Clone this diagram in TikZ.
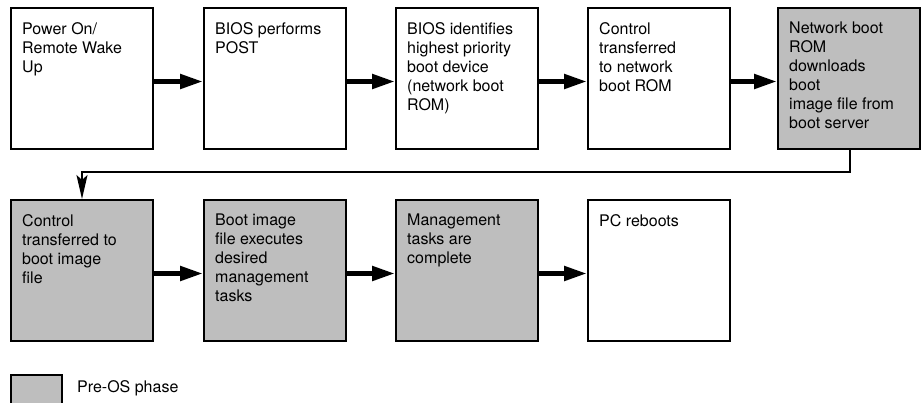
\documentclass[tikz,border=0pt]{standalone}
\usepackage{fontspec}
\setmainfont{TeX Gyre Heros}
\usetikzlibrary{arrows.meta}
\definecolor{preos}{RGB}{190,190,190}
\tikzset{
  stepbox/.style={draw=black, line width=2pt, minimum width=142pt, minimum height=141pt,
    inner sep=0pt, anchor=north west},
  preosbox/.style={stepbox, fill=preos},
  steptext/.style={anchor=north west, align=left, inner sep=0pt,
    font=\fontsize{16pt}{19pt}\selectfont},
  flow/.style={line width=5pt, -{Triangle[length=23pt,width=14pt]}},
  wrap/.style={line width=2pt, -{Stealth[length=24pt,width=11pt,inset=5pt]}},
}
\begin{document}
\begin{tikzpicture}[x=1pt,y=-1pt]
\useasboundingbox (0,0) rectangle (923,402);
\begin{scope}
\clip (0,0) rectangle (923,402);

% first row
\node[stepbox]  (b1) at (10,7)  {};
\node[stepbox]  (b2) at (203,7) {};
\node[stepbox]  (b3) at (395,7) {};
\node[stepbox]  (b4) at (587,7) {};
\node[preosbox] (b5) at (777,7) {};

% second row
\node[preosbox] (b6) at (10,199)  {};
\node[preosbox] (b7) at (203,199) {};
\node[preosbox] (b8) at (395,199) {};
\node[stepbox]  (b9) at (587,199) {};

% box texts
\foreach \b/\t in {b1/{Power On/\\Remote Wake\\Up},
                   b2/{BIOS performs\\POST},
                   b3/{BIOS identifies\\highest priority\\boot device\\(network boot\\ROM)},
                   b4/{Control\\transferred\\to network\\boot ROM},
                   b5/{Network boot\\ROM\\downloads\\boot\\image file from\\boot server},
                   b6/{Control\\transferred to\\boot image\\file},
                   b7/{Boot image\\file executes\\desired\\management\\tasks},
                   b8/{Management\\tasks are\\complete},
                   b9/{PC reboots}}
  \node[steptext] (t\b) at ([xshift=12,yshift=-15]\b.north west) {\t};

% forward arrows
\foreach \a/\b in {b1/b2,b2/b3,b3/b4,b4/b5,b6/b7,b7/b8,b8/b9}
  \draw[flow] ([yshift=-3]\a.east) -- ([yshift=-3]\b.west);

% wrap-around to the second row
\coordinate (turnR) at ([xshift=-71]b5.south east |- 0,172);
\draw[wrap] (b5.south -| turnR) -- (turnR) -| (b6.north);

% legend
\node[preosbox, minimum width=51pt, minimum height=32pt] (key) at (10,374) {};
\node[anchor=base west, inner sep=0pt, font=\fontsize{16pt}{19pt}\selectfont]
  (keytext) at (77,392) {Pre-OS phase};
\end{scope}
\end{tikzpicture}
\end{document}
